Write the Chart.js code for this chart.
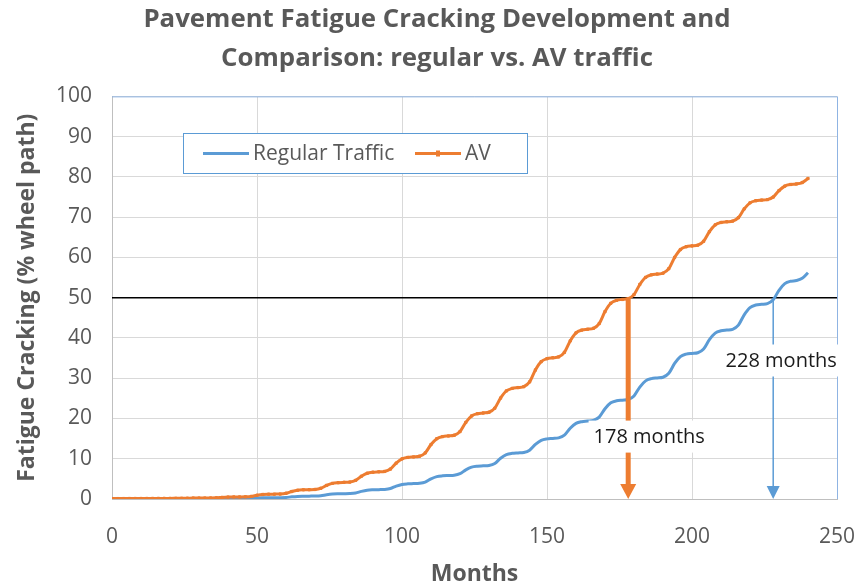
<!DOCTYPE html>
<html>
<head>
<meta charset="utf-8">
<script src="https://cdn.jsdelivr.net/npm/chart.js@4"></script>
<style>
  body { margin: 0; background: #fff; }
  #wrap { width: 860px; height: 588px; }
</style>
</head>
<body>
<div id="wrap"><canvas id="chart" width="860" height="588"></canvas></div>
<script>
// months (every 2nd month), one year per row
const months = [
    0, 2, 4, 6, 8, 10,
    12, 14, 16, 18, 20, 22,
    24, 26, 28, 30, 32, 34,
    36, 38, 40, 42, 44, 46,
    48, 50, 52, 54, 56, 58,
    60, 62, 64, 66, 68, 70,
    72, 74, 76, 78, 80, 82,
    84, 86, 88, 90, 92, 94,
    96, 98, 100, 102, 104, 106,
    108, 110, 112, 114, 116, 118,
    120, 122, 124, 126, 128, 130,
    132, 134, 136, 138, 140, 142,
    144, 146, 148, 150, 152, 154,
    156, 158, 160, 162, 164, 166,
    168, 170, 172, 174, 176, 178,
    180, 182, 184, 186, 188, 190,
    192, 194, 196, 198, 200, 202,
    204, 206, 208, 210, 212, 214,
    216, 218, 220, 222, 224, 226,
    228, 230, 232, 234, 236, 238,
    240
];

// fatigue cracking, % wheel path
const regularTraffic = [
    0.00, 0.00, 0.00, 0.00, 0.00, 0.00,
    0.00, 0.01, 0.01, 0.01, 0.01, 0.01,
    0.02, 0.03, 0.05, 0.05, 0.05, 0.05,
    0.07, 0.11, 0.14, 0.15, 0.15, 0.16,
    0.18, 0.24, 0.28, 0.30, 0.30, 0.32,
    0.38, 0.54, 0.65, 0.69, 0.71, 0.73,
    0.82, 1.06, 1.23, 1.29, 1.31, 1.35,
    1.50, 1.90, 2.18, 2.28, 2.32, 2.37,
    2.60, 3.20, 3.62, 3.77, 3.83, 3.90,
    4.20, 5.00, 5.56, 5.76, 5.83, 5.90,
    6.28, 7.24, 7.91, 8.15, 8.23, 8.33,
    8.84, 10.12, 11.02, 11.34, 11.44, 11.55,
    12.12, 13.56, 14.57, 14.93, 15.04, 15.18,
    15.86, 17.58, 18.78, 19.21, 19.35, 19.52,
    20.34, 22.42, 23.88, 24.40, 24.55, 24.72,
    25.60, 27.80, 29.34, 29.89, 30.06, 30.24,
    31.22, 33.66, 35.37, 35.98, 36.16, 36.33,
    37.26, 39.58, 41.20, 41.78, 41.96, 42.15,
    43.18, 45.74, 47.53, 48.17, 48.36, 48.54,
    49.48, 51.84, 53.49, 54.08, 54.25, 54.80,
    56.20
];

const avTraffic = [
    0.10, 0.10, 0.11, 0.12, 0.12, 0.12,
    0.13, 0.14, 0.15, 0.15, 0.15, 0.16,
    0.17, 0.20, 0.23, 0.24, 0.24, 0.25,
    0.30, 0.40, 0.47, 0.50, 0.51, 0.54,
    0.64, 0.92, 1.12, 1.19, 1.21, 1.24,
    1.42, 1.86, 2.17, 2.28, 2.32, 2.37,
    2.66, 3.38, 3.88, 4.06, 4.13, 4.20,
    4.62, 5.66, 6.39, 6.65, 6.74, 6.85,
    7.44, 8.92, 9.96, 10.33, 10.45, 10.61,
    11.44, 13.52, 14.98, 15.50, 15.66, 15.83,
    16.74, 19.02, 20.62, 21.19, 21.36, 21.55,
    22.56, 25.08, 26.84, 27.47, 27.67, 27.90,
    29.08, 32.04, 34.11, 34.85, 35.07, 35.28,
    36.42, 39.26, 41.25, 41.96, 42.17, 42.40,
    43.58, 46.54, 48.61, 49.35, 49.56, 49.75,
    50.76, 53.28, 55.04, 55.67, 55.87, 56.08,
    57.20, 60.00, 61.96, 62.66, 62.86, 63.04,
    64.00, 66.40, 68.08, 68.68, 68.85, 69.02,
    69.88, 72.04, 73.55, 74.09, 74.24, 74.36,
    75.00, 76.60, 77.72, 78.12, 78.24, 78.60,
    79.60
];

const seriesNames = ['Regular Traffic', 'AV'];
const threshold = 50;
const crossMonths = [178, 228];          // AV, regular
const crossLabels = ['178 months', '228 months'];
const xTicks = [0, 50, 100, 150, 200, 250];
const yTicks = [0, 10, 20, 30, 40, 50, 60, 70, 80, 90, 100];

const BLUE = '#5b9bd5';
const ORANGE = '#ed7d31';
const FONT = "'Open Sans', sans-serif";

const toPoints = (vals) => vals.map((v, i) => ({ x: months[i], y: v }));

// blue outline on top/right of the plot area
const plotFrame = {
    id: 'plotFrame',
    beforeDatasetsDraw(chart) {
        const { ctx, chartArea: a } = chart;
        ctx.save();
        ctx.strokeStyle = '#8fb4e3';
        ctx.lineWidth = 1;
        ctx.beginPath();
        ctx.moveTo(a.left, a.top + 0.5);
        ctx.lineTo(a.right + 0.5, a.top + 0.5);
        ctx.lineTo(a.right + 0.5, a.bottom);
        ctx.stroke();
        ctx.restore();
    }
};

// down arrows at the months where each curve reaches the threshold
const arrowStyle = [
    { color: ORANGE, width: 5, headW: 16, headH: 15, labelDx: 21, labelY: 15.5 },
    { color: BLUE, width: 1.5, headW: 13, headH: 13, labelDx: 8, labelY: 34.4 }
];
const crossArrows = {
    id: 'crossArrows',
    afterDatasetsDraw(chart) {
        const { ctx } = chart;
        const xs = chart.scales.x, ys = chart.scales.y;
        const yTop = ys.getPixelForValue(threshold);
        const yBot = ys.getPixelForValue(0);
        ctx.save();
        crossMonths.forEach((m, i) => {
            const st = arrowStyle[i];
            const x = xs.getPixelForValue(m);
            ctx.strokeStyle = st.color;
            ctx.fillStyle = st.color;
            ctx.lineWidth = st.width;
            ctx.beginPath();
            ctx.moveTo(x, yTop);
            ctx.lineTo(x, yBot - st.headH + 1);
            ctx.stroke();
            ctx.beginPath();
            ctx.moveTo(x - st.headW / 2, yBot - st.headH);
            ctx.lineTo(x + st.headW / 2, yBot - st.headH);
            ctx.lineTo(x, yBot);
            ctx.closePath();
            ctx.fill();
        });
        ctx.font = '20px ' + FONT;
        ctx.textAlign = 'center';
        ctx.textBaseline = 'middle';
        crossMonths.forEach((m, i) => {
            const st = arrowStyle[i];
            const cx = xs.getPixelForValue(m) + st.labelDx;
            const cy = ys.getPixelForValue(st.labelY);
            const w = ctx.measureText(crossLabels[i]).width + 10;
            ctx.fillStyle = '#fff';
            ctx.fillRect(cx - w / 2, cy - 16, w, 32);
            ctx.fillStyle = '#1a1a1a';
            ctx.fillText(crossLabels[i], cx, cy + 1);
        });
        ctx.restore();
    }
};

// legend box drawn inside the plot area
const boxLegend = {
    id: 'boxLegend',
    afterDraw(chart) {
        const { ctx } = chart;
        const box = { x: 183.5, y: 133.5, w: 344, h: 40 };
        const cy = box.y + box.h / 2;
        ctx.save();
        ctx.fillStyle = '#fff';
        ctx.fillRect(box.x, box.y, box.w, box.h);
        ctx.strokeStyle = BLUE;
        ctx.lineWidth = 1;
        ctx.strokeRect(box.x, box.y, box.w, box.h);
        ctx.font = '21px ' + FONT;
        ctx.textBaseline = 'middle';
        const items = [
            { x: 203, color: BLUE, marker: false },
            { x: 415, color: ORANGE, marker: true }
        ];
        items.forEach((it, i) => {
            ctx.strokeStyle = it.color;
            ctx.lineWidth = 3;
            ctx.beginPath();
            ctx.moveTo(it.x, cy);
            ctx.lineTo(it.x + 46, cy);
            ctx.stroke();
            if (it.marker) {
                ctx.fillStyle = it.color;
                ctx.fillRect(it.x + 21, cy - 3, 4, 6);
            }
            ctx.fillStyle = '#595959';
            ctx.fillText(chart.data.datasets[i].label, it.x + 50, cy + 1);
        });
        ctx.restore();
    }
};

new Chart(document.getElementById('chart'), {
    type: 'line',
    data: {
        datasets: [
            {
                label: seriesNames[0],
                data: toPoints(regularTraffic),
                borderColor: BLUE,
                borderWidth: 3,
                pointRadius: 0,
                cubicInterpolationMode: 'monotone',
                order: 2
            },
            {
                label: seriesNames[1],
                data: toPoints(avTraffic),
                borderColor: ORANGE,
                borderWidth: 3,
                pointRadius: 1.6,
                pointStyle: 'rect',
                pointBackgroundColor: ORANGE,
                pointBorderColor: ORANGE,
                pointBorderWidth: 1,
                cubicInterpolationMode: 'monotone',
                order: 1
            },
            {
                label: 'threshold',
                data: [{ x: xTicks[0], y: threshold }, { x: xTicks[xTicks.length - 1], y: threshold }],
                borderColor: '#000',
                borderWidth: 1.5,
                pointRadius: 0,
                order: 3
            }
        ]
    },
    options: {
        responsive: false,
        animation: false,
        layout: { padding: { left: 14, right: 0, top: 0, bottom: 0 } },
        plugins: {
            legend: { display: false },
            tooltip: { enabled: false },
            title: {
                display: true,
                text: ['Pavement Fatigue Cracking Development and', 'Comparison: regular vs. AV traffic'],
                color: '#595959',
                font: { family: FONT, size: 25.8, weight: 'bold', lineHeight: 1.48 },
                padding: { top: 1, bottom: 19 }
            }
        },
        scales: {
            x: {
                type: 'linear',
                min: xTicks[0],
                max: xTicks[xTicks.length - 1],
                afterFit: (s) => {
                    s.height = 89;
                    s.paddingLeft = 0;
                    s.paddingRight = 23;
                },
                afterBuildTicks: (s) => { s.ticks = xTicks.map((v) => ({ value: v })); },
                ticks: { color: '#595959', font: { family: FONT, size: 21 }, padding: 25 },
                grid: { color: '#d9d9d9', drawTicks: false },
                border: { color: '#bfbfbf', width: 1 },
                title: {
                    display: true,
                    text: 'Months',
                    color: '#595959',
                    font: { family: FONT, size: 23, weight: 'bold', lineHeight: 1.2 },
                    padding: { top: 0, bottom: 0 }
                }
            },
            y: {
                min: yTicks[0],
                max: yTicks[yTicks.length - 1],
                afterFit: (s) => { s.width = 98; },
                afterBuildTicks: (s) => { s.ticks = yTicks.map((v) => ({ value: v })); },
                ticks: { color: '#595959', font: { family: FONT, size: 21 }, padding: 20 },
                grid: { color: '#d9d9d9', drawTicks: false },
                border: { color: '#bfbfbf', width: 1 },
                title: {
                    display: true,
                    text: 'Fatigue Cracking (% wheel path)',
                    color: '#595959',
                    font: { family: FONT, size: 23, weight: 'bold', lineHeight: 1.2 },
                    padding: { top: 0, bottom: 0 }
                }
            }
        }
    },
    plugins: [plotFrame, crossArrows, boxLegend]
});
</script>
</body>
</html>
